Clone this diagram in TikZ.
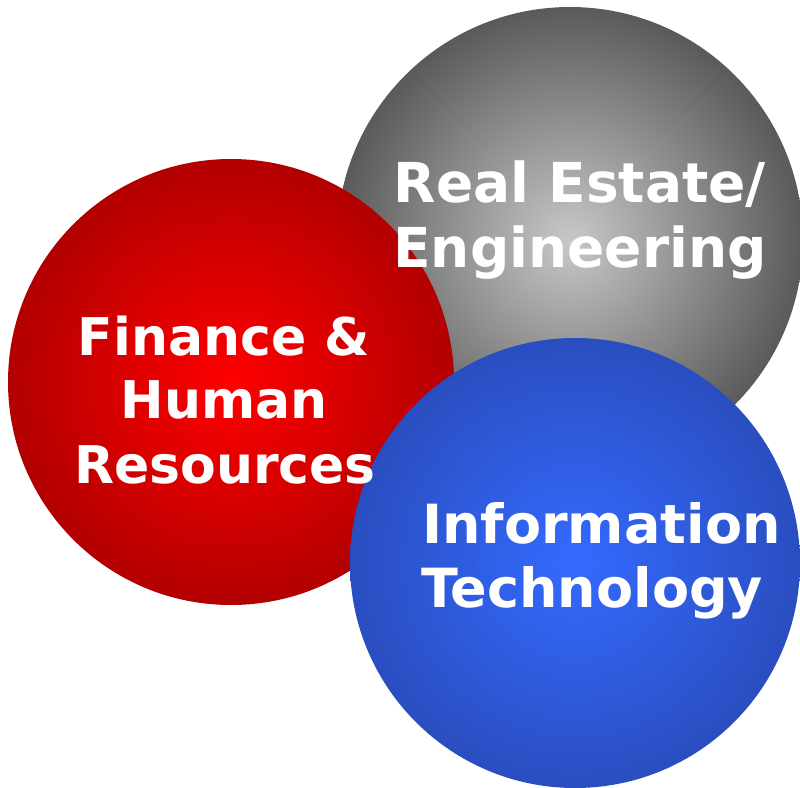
\documentclass[tikz,border=0pt]{standalone}
\usepackage{fontspec}
\setmainfont{DejaVu Sans}
\definecolor{grayin}{RGB}{200,200,200}
\definecolor{grayout}{RGB}{90,90,90}
\definecolor{redin}{RGB}{255,0,0}
\definecolor{redout}{RGB}{178,0,0}
\definecolor{bluein}{RGB}{52,106,255}
\definecolor{blueout}{RGB}{42,78,192}
\begin{document}
\begin{tikzpicture}[x=1pt,y=-1pt,
  ball/.style={circle,inner sep=0pt,shade,draw=none},
  lbl/.style={text=white,font=\bfseries\fontsize{#1}{64}\selectfont,anchor=base,inner sep=0pt},
  lbl/.default=52]
\useasboundingbox (0,0) rectangle (800,787);
\clip (0,0) rectangle (800,787);
\node[ball,minimum size=466pt,inner color=grayin,outer color=grayout] (re) at (570,240) {};
\node[ball,minimum size=446pt,inner color=redin,outer color=redout] (fin) at (231,382) {};
\node[ball,minimum size=450pt,inner color=bluein,outer color=blueout] (it) at (575,563) {};
\node[lbl=55] (re1) at (580,202) {Real Estate/};
\node[lbl=55] (re2) at (580,267) {Engineering};
\node[lbl] (fin1) at (224,355) {Finance \&};
\node[lbl] (fin2) at (224,418) {Human};
\node[lbl] (fin3) at (225,483) {Resources};
\node[lbl=54,anchor=base west] (it1) at (422,543) {Information};
\node[lbl=54,anchor=base west] (it2) at (421,607) {Technology};
\end{tikzpicture}
\end{document}
